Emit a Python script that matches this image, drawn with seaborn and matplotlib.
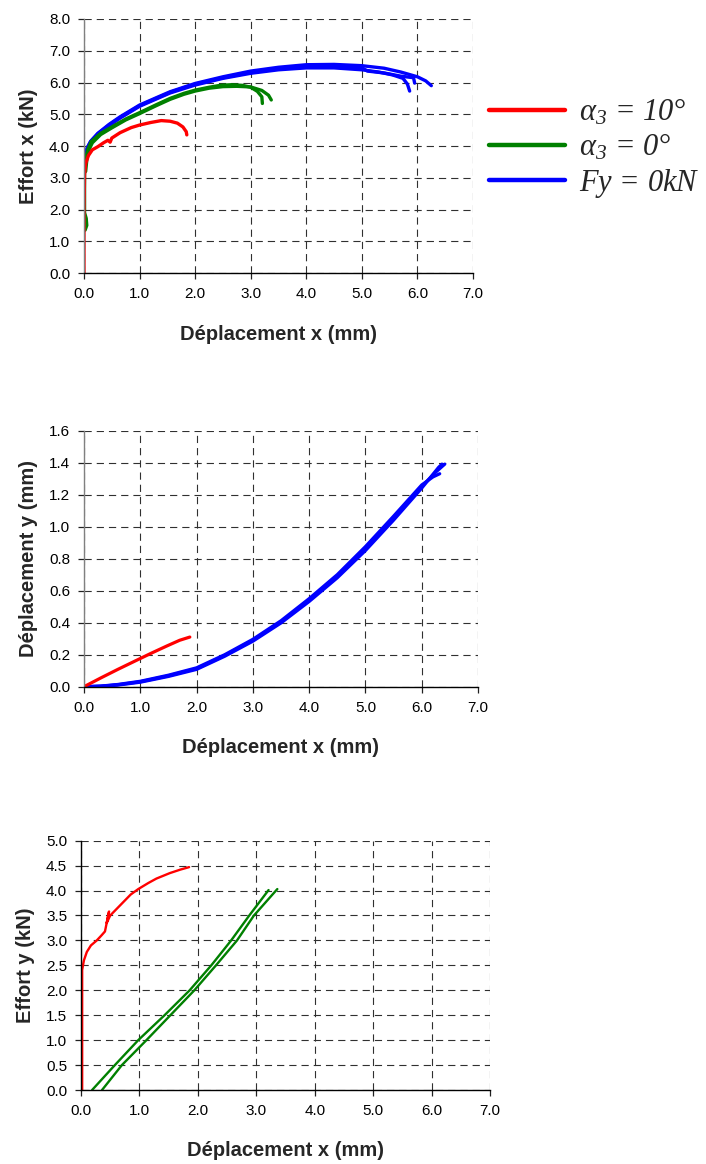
import numpy as np
import pandas as pd
import matplotlib
matplotlib.use("Agg")
import matplotlib.pyplot as plt
from matplotlib.lines import Line2D
import seaborn as sns

# ---------------- data ----------------
series_labels = [r"$\alpha_3$ = 10°", r"$\alpha_3$ = 0°", r"$Fy$ = 0kN"]
series_keys = ["a10", "a0", "fy0"]
series_colors = ["#ff0000", "#008000", "#0000ff"]

x_ticks = [0.0, 1.0, 2.0, 3.0, 4.0, 5.0, 6.0, 7.0]
y1_ticks = [0.0, 1.0, 2.0, 3.0, 4.0, 5.0, 6.0, 7.0, 8.0]
y2_ticks = [0.0, 0.2, 0.4, 0.6, 0.8, 1.0, 1.2, 1.4, 1.6]
y3_ticks = [0.0, 0.5, 1.0, 1.5, 2.0, 2.5, 3.0, 3.5, 4.0, 4.5, 5.0]

# Plot 1 : Effort x vs Deplacement x
p1_red_x = [0.0, 0.0, 0.0, 0.01, 0.03, 0.08, 0.15, 0.25, 0.35, 0.43, 0.47, 0.5, 0.65, 0.85, 1.0, 1.2, 1.39, 1.55, 1.68, 1.78, 1.84, 1.85]
p1_red_y = [0.0, 1.0, 2.0, 3.1, 3.45, 3.7, 3.88, 3.98, 4.1, 4.18, 4.12, 4.25, 4.42, 4.58, 4.66, 4.74, 4.8, 4.78, 4.72, 4.6, 4.45, 4.35]

p1_green1_x = [0.02, 0.05, 0.04, 0.01, 0.01, 0.03, 0.07, 0.13, 0.3, 0.5, 0.75, 1.0, 1.3, 1.55, 1.8, 2.0, 2.25, 2.45, 2.65, 2.85, 3.0, 3.12, 3.2, 3.21]
p1_green1_y = [1.35, 1.5, 1.72, 1.9, 3.2, 3.6, 3.9, 4.14, 4.4, 4.6, 4.85, 5.05, 5.3, 5.5, 5.66, 5.76, 5.85, 5.91, 5.93, 5.91, 5.85, 5.72, 5.55, 5.34]
p1_green2_x = [0.03, 0.05, 0.08, 0.15, 0.3, 0.5, 0.75, 1.0, 1.3, 1.55, 1.8, 2.0, 2.25, 2.5, 2.75, 3.0, 3.2, 3.32, 3.37]
p1_green2_y = [3.2, 3.55, 3.85, 4.1, 4.36, 4.57, 4.82, 5.02, 5.27, 5.47, 5.63, 5.73, 5.82, 5.87, 5.88, 5.86, 5.75, 5.6, 5.45]

p1_blue1_x = [0.0, 0.0, 0.02, 0.06, 0.12, 0.25, 0.45, 0.65, 1.0, 1.3, 1.55, 2.0, 2.5, 3.0, 3.5, 4.0, 4.5, 5.0, 5.4, 5.7, 6.0, 6.15, 6.25]
p1_blue1_y = [3.2, 3.4, 3.7, 3.95, 4.15, 4.4, 4.68, 4.92, 5.29, 5.52, 5.71, 5.97, 6.18, 6.36, 6.48, 6.56, 6.57, 6.53, 6.45, 6.33, 6.18, 6.05, 5.9]
p1_blue2_x = [0.0, 0.02, 0.06, 0.12, 0.25, 0.45, 0.65, 1.0, 1.3, 1.55, 2.0, 2.5, 3.0, 3.5, 4.0, 4.5, 5.0, 5.3, 5.55, 5.74, 5.82, 5.86]
p1_blue2_y = [3.3, 3.65, 3.92, 4.12, 4.37, 4.64, 4.88, 5.25, 5.48, 5.67, 5.92, 6.13, 6.29, 6.4, 6.46, 6.46, 6.4, 6.33, 6.24, 6.13, 5.95, 5.73]
p1_blue3_x = [0.0, 0.02, 0.06, 0.12, 0.25, 0.45, 0.65, 1.0, 1.3, 1.55, 2.0, 2.5, 3.0, 3.5, 4.0, 4.5, 5.0, 5.1, 5.4, 5.7, 5.93, 5.95]
p1_blue3_y = [3.25, 3.68, 3.94, 4.14, 4.39, 4.66, 4.9, 5.27, 5.5, 5.69, 5.95, 6.15, 6.32, 6.44, 6.51, 6.52, 6.47, 6.36, 6.3, 6.2, 6.15, 5.98]

# Plot 2 : Deplacement y vs Deplacement x
p2_red_x = [0.0, 0.3, 0.6, 0.94, 1.2, 1.47, 1.7, 1.88]
p2_red_y = [0.0, 0.055, 0.108, 0.166, 0.21, 0.254, 0.29, 0.31]

p2_blue1_x = [0.0, 0.3, 0.6, 1.0, 1.5, 2.0, 2.5, 3.0, 3.5, 4.0, 4.5, 5.0, 5.5, 6.0, 6.25, 6.41]
p2_blue1_y = [0.0, 0.003, 0.012, 0.031, 0.068, 0.113, 0.195, 0.29, 0.405, 0.54, 0.69, 0.86, 1.05, 1.25, 1.34, 1.39]
p2_blue2_x = [0.0, 0.3, 0.6, 1.0, 1.5, 2.0, 2.5, 3.0, 3.5, 4.0, 4.5, 5.0, 5.5, 6.0, 6.2, 6.32]
p2_blue2_y = [0.0, 0.004, 0.014, 0.034, 0.072, 0.118, 0.2, 0.296, 0.412, 0.55, 0.7, 0.875, 1.065, 1.26, 1.31, 1.33]
p2_blue3_x = [0.0, 0.3, 0.6, 1.0, 1.5, 2.0, 2.5, 3.0, 3.5, 4.0, 4.5, 5.0, 5.5, 6.0, 6.3, 6.36]
p2_blue3_y = [0.0, 0.002, 0.01, 0.028, 0.064, 0.108, 0.19, 0.284, 0.398, 0.532, 0.68, 0.85, 1.04, 1.24, 1.37, 1.39]

# Plot 3 : Effort y vs Deplacement x
p3_red_x = [0.02, 0.02, 0.02, 0.02, 0.05, 0.1, 0.17, 0.27, 0.35, 0.41, 0.48, 0.44, 0.5, 0.6, 0.7, 0.85, 0.98, 1.15, 1.29, 1.52, 1.7, 1.85]
p3_red_y = [0.0, 1.0, 2.0, 2.41, 2.6, 2.77, 2.9, 3.0, 3.1, 3.18, 3.58, 3.35, 3.5, 3.62, 3.74, 3.92, 4.03, 4.15, 4.24, 4.35, 4.42, 4.47]

p3_green1_x = [0.19, 0.58, 0.98, 1.43, 1.86, 2.23, 2.57, 2.88, 3.21]
p3_green1_y = [0.0, 0.5, 1.0, 1.5, 2.0, 2.5, 3.0, 3.5, 4.01]
p3_green2_x = [0.36, 0.7, 1.12, 1.53, 1.94, 2.31, 2.67, 2.96, 3.36]
p3_green2_y = [0.0, 0.5, 1.0, 1.5, 2.0, 2.5, 3.0, 3.5, 4.03]


def make_df(curves):
    frames = []
    for run, (key, xs, ys) in enumerate(curves):
        frames.append(pd.DataFrame({"x": xs, "y": ys, "series": key, "run": run}))
    return pd.concat(frames, ignore_index=True)


df1 = make_df([
    ("a10", p1_red_x, p1_red_y),
    ("a0", p1_green1_x, p1_green1_y),
    ("a0", p1_green2_x, p1_green2_y),
    ("fy0", p1_blue1_x, p1_blue1_y),
    ("fy0", p1_blue2_x, p1_blue2_y),
    ("fy0", p1_blue3_x, p1_blue3_y),
])
df2 = make_df([
    ("a10", p2_red_x, p2_red_y),
    ("fy0", p2_blue1_x, p2_blue1_y),
    ("fy0", p2_blue2_x, p2_blue2_y),
    ("fy0", p2_blue3_x, p2_blue3_y),
])
df3 = make_df([
    ("a10", p3_red_x, p3_red_y),
    ("a0", p3_green1_x, p3_green1_y),
    ("a0", p3_green2_x, p3_green2_y),
])

palette = dict(zip(series_keys, series_colors))

# ---------------- style ----------------
sns.set_theme(style="white")
plt.rcParams["font.family"] = ["Liberation Sans", "DejaVu Sans"]
plt.rcParams["mathtext.fontset"] = "custom"
plt.rcParams["mathtext.it"] = "Liberation Serif:italic"
plt.rcParams["mathtext.rm"] = "Liberation Serif:italic"

W, H = 706, 1164
fig = plt.figure(figsize=(W / 100, H / 100), dpi=100)


def add_axes(left, right, top, bottom):
    return fig.add_axes([left / W, (H - bottom) / H, (right - left) / W, (bottom - top) / H])


ax1 = add_axes(84, 473, 19, 273)
ax2 = add_axes(84, 478, 430.5, 686.7)
ax3 = add_axes(81, 490, 840.7, 1090)


def style_axis(ax, yticks, ylabel, left_color):
    ax.set_xlim(0, 7.0)
    ax.set_ylim(yticks[0], yticks[-1])
    ax.set_xticks(x_ticks)
    ax.set_yticks(yticks)
    ax.set_xticklabels([f"{v:.1f}" for v in x_ticks])
    ax.set_yticklabels([f"{v:.1f}" for v in yticks])
    ax.grid(True, color="#303030", linewidth=0.8, linestyle=(0, (6.5, 4.5)))
    for s in ["top", "right"]:
        ax.spines[s].set_visible(False)
    ax.spines["left"].set_color(left_color)
    ax.spines["bottom"].set_color("black")
    ax.spines["left"].set_linewidth(1.0)
    ax.spines["bottom"].set_linewidth(1.0)
    ax.tick_params(axis="both", direction="out", length=4, width=0.9, color="#202020",
                   labelsize=11, pad=6, bottom=True, left=True, labelcolor="black")
    ax.set_xlabel("Déplacement x (mm)", fontsize=14.5, fontweight="bold", labelpad=17)
    ax.set_ylabel(ylabel, fontsize=14.5, fontweight="bold", labelpad=8)
    ax.set_axisbelow(True)


draw_order = ["fy0", "a0", "a10"]
for ax, df, lw in [(ax1, df1, 2.4), (ax2, df2, 2.3), (ax3, df3, 1.7)]:
    for key in draw_order:
        sub = df[df["series"] == key]
        if len(sub) == 0:
            continue
        sns.lineplot(data=sub, x="x", y="y", hue="series", units="run", estimator=None,
                     sort=False, palette=palette, legend=False, linewidth=lw, ax=ax)

style_axis(ax1, y1_ticks, "Effort x (kN)", "#808080")
style_axis(ax2, y2_ticks, "Déplacement y (mm)", "#808080")
style_axis(ax3, y3_ticks, "Effort y (kN)", "black")

handles = [Line2D([0], [0], color=c, lw=3.2) for c in series_colors]
fig.legend(handles, series_labels, loc="upper left", bbox_to_anchor=(489 / W, 1 - 97 / H),
           frameon=False, prop={"family": "Liberation Serif", "style": "italic", "size": 22},
           handlelength=2.5, handletextpad=0.45, labelspacing=0.15, borderpad=0,
           borderaxespad=0)

fig.savefig("out.png", dpi=100)
